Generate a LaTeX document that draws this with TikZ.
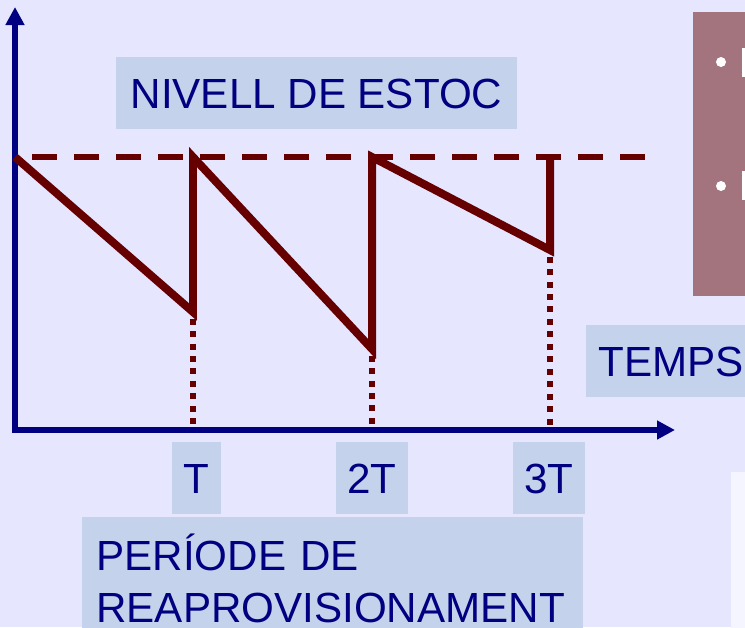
\documentclass[tikz,border=0pt]{standalone}
\usepackage{fontspec}
\setmainfont{Liberation Sans}
\usetikzlibrary{arrows.meta}

\definecolor{bgcol}{HTML}{E6E6FF}
\definecolor{boxcol}{HTML}{C4D2EC}
\definecolor{navy}{HTML}{000080}
\definecolor{stockred}{HTML}{660000}
\definecolor{mauve}{HTML}{A3747D}
\definecolor{pale}{HTML}{F5F5FF}

\begin{document}
\begin{tikzpicture}[x=0.02cm,y=-0.02cm,
    axis/.style={navy,line width=0.12cm,-{Triangle[length=0.36cm,width=0.36cm]}},
    saw/.style={stockred,line width=0.16cm},
    maxline/.style={stockred,line width=0.13cm,dash pattern=on 0.5cm off 0.34cm},
    guide/.style={stockred,line width=0.12cm,dash pattern=on 0.12cm off 0.13cm,dash phase=0.12cm},
    lblbase/.style={fill=boxcol,text=navy,font=\fontsize{24}{29.6}\selectfont,inner sep=0pt},
    lbl/.style={lblbase,text height=0.62cm,text depth=0pt,minimum height=1.44cm}]
      \useasboundingbox (0,0) rectangle (745,627);
      \clip (0,0) rectangle (745,627);
      \fill[bgcol] (0,0) rectangle (745,627);

      % panels at the right edge
      \fill[mauve] (693,12) rectangle (760,296);
      \fill[white] (721,62) circle (0.1cm);
      \fill[white] (721,186) circle (0.1cm);
      \fill[white] (742,48) rectangle (760,77);
      \fill[white] (742,171) rectangle (760,200);
      \fill[pale] (731,472) rectangle (760,640);

      % labels
      \node[lbl,minimum width=8.02cm] (nivell) at (316.5,93) {NIVELL DE ESTOC};
      \node[lbl,anchor=west,inner xsep=0.24cm] (temps) at (586,361) {TEMPS};
      \node[lbl,minimum width=0.98cm] (tick1) at (196.5,477.5) {T};
      \node[lbl,minimum width=1.44cm] (tick2) at (372,477.5) {2T};
      \node[lbl,minimum width=1.44cm] (tick3) at (549,477.5) {3T};
      \node[lblbase,anchor=north west,inner xsep=0.28cm,text width=9.46cm,align=left] (periode) at (82,517)
        {\rule{0pt}{1.06cm}PERÍODE DE\\REAPROVISIONAMENT\rule[-0.4cm]{0pt}{0pt}};

      % axes
      \coordinate (ybot) at (15,433);
      \coordinate (ytop) at (15,7);
      \coordinate (xbeg) at (12,430);
      \coordinate (xend) at (675,430);
      \draw[axis] (ybot) -- (ytop);
      \draw[axis] (xbeg) -- (xend);

      % stock level
      \coordinate (top0) at (15,157);
      \coordinate (low1) at (193,312);
      \coordinate (top1) at (193,157);
      \coordinate (low2) at (372,349);
      \coordinate (top2) at (372,157);
      \coordinate (low3) at (550,250);
      \coordinate (top3) at (550,157);
      \coordinate (foot1) at (193,430);
      \coordinate (foot2) at (372,430);
      \coordinate (foot3) at (550,430);
      \coordinate (maxl) at (32,157);
      \coordinate (maxr) at (645,157);

      \draw[maxline] (maxl) -- (maxr);
      \draw[guide] (low1) -- (foot1);
      \draw[guide] (low2) -- (foot2);
      \draw[guide] (low3) -- (foot3);
      \draw[saw] (top0) -- (low1) -- (top1) -- (low2) -- (top2) -- (low3) -- (top3);
    \end{tikzpicture}
\end{document}
